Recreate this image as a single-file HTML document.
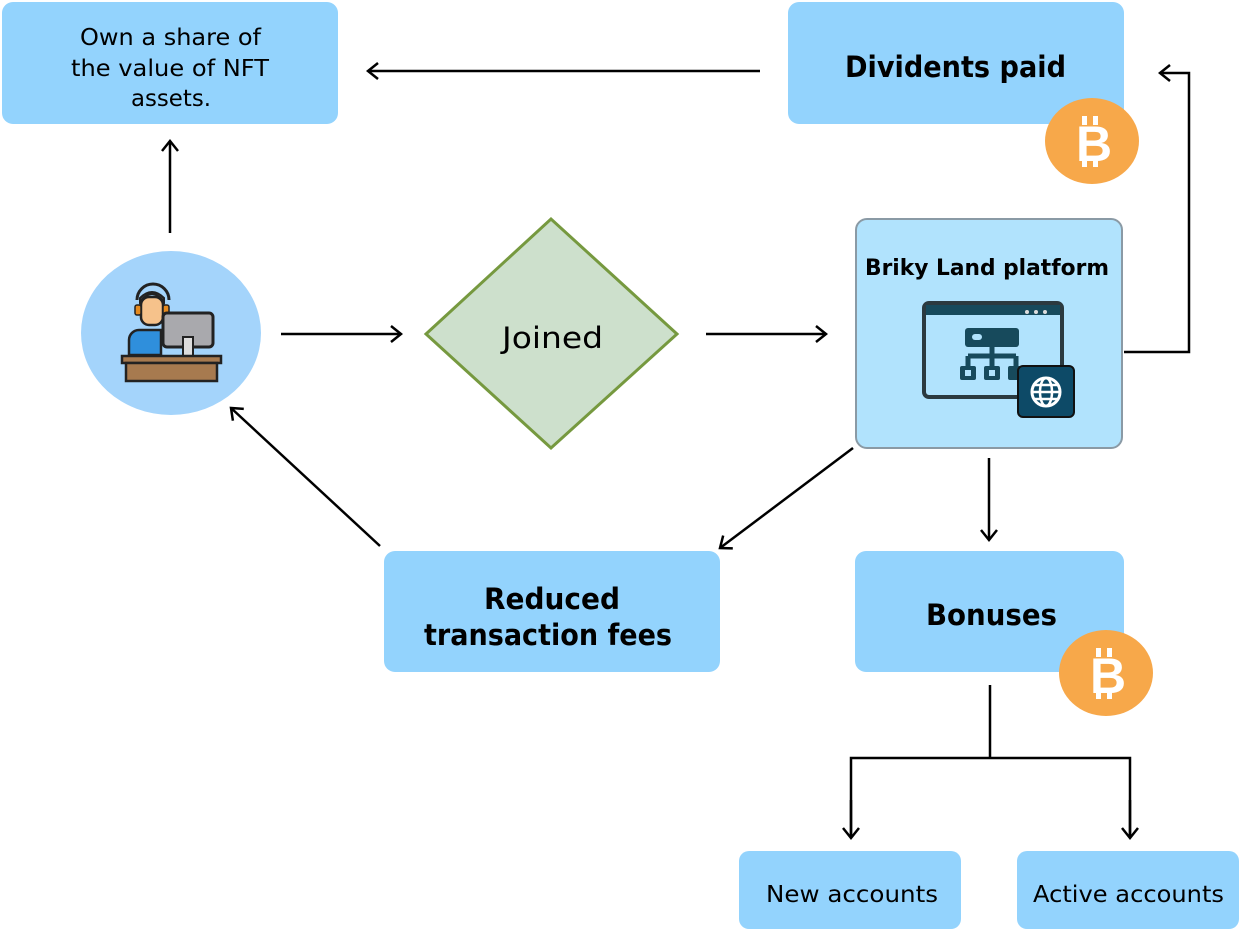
<!DOCTYPE html>
<html><head><meta charset="utf-8"><style>
html,body{margin:0;padding:0;background:#fff;}
svg{display:block;font-family:"DejaVu Sans","Liberation Sans",sans-serif;}
</style></head><body>
<svg width="1239" height="930" viewBox="0 0 1239 930" xmlns="http://www.w3.org/2000/svg">
<defs>
<marker id="a" markerWidth="20" markerHeight="20" refX="14" refY="10" orient="auto" markerUnits="userSpaceOnUse">
<polyline points="4,2 14,10 4,18" fill="none" stroke="#000" stroke-width="2.5"/>
</marker>
</defs>
<rect x="2" y="2" width="336" height="122" rx="11" fill="#93d3fd"/>
<text x="80" y="45" font-size="23" textLength="181" lengthAdjust="spacingAndGlyphs" fill="#000">Own a share of</text>
<text x="71" y="76" font-size="23" textLength="198" lengthAdjust="spacingAndGlyphs" fill="#000">the value of NFT</text>
<text x="131" y="106" font-size="23" textLength="80" lengthAdjust="spacingAndGlyphs" fill="#000">assets.</text>

<rect x="788" y="2" width="336" height="122" rx="11" fill="#93d3fd"/>
<text x="845" y="77" font-size="29" font-weight="bold" textLength="221" lengthAdjust="spacingAndGlyphs" fill="#000">Dividents paid</text>

<rect x="856" y="219" width="266" height="229" rx="11" fill="#b1e3fd" stroke="#8a9aa5" stroke-width="2"/>
<text x="865" y="275" font-size="22" font-weight="bold" textLength="244" lengthAdjust="spacingAndGlyphs" fill="#000">Briky Land platform</text>
<rect x="924" y="303" width="138" height="94" rx="5" fill="#b1e3fd" stroke="#2b3a40" stroke-width="4"/>
<rect x="926" y="305" width="134" height="10" fill="#174a5c"/>
<circle cx="1027" cy="312" r="2" fill="#ddd"/><circle cx="1036" cy="312" r="2" fill="#ddd"/><circle cx="1045" cy="312" r="2" fill="#ddd"/>
<rect x="965" y="328" width="54" height="19" rx="3" fill="#174a5c"/>
<rect x="972" y="334" width="10" height="6" rx="3" fill="#b1e3fd"/>
<path d="M992 347 V356 M968 356 H1016 M968 356 V366 M992 356 V366 M1016 356 V366" stroke="#174a5c" stroke-width="5" fill="none"/>
<rect x="960" y="366" width="16" height="14" rx="2" fill="#174a5c"/><rect x="965" y="370" width="6" height="6" fill="#b1e3fd"/>
<rect x="984" y="366" width="16" height="14" rx="2" fill="#174a5c"/><rect x="989" y="370" width="6" height="6" fill="#b1e3fd"/>
<rect x="1008" y="366" width="16" height="14" rx="2" fill="#174a5c"/>
<rect x="1018" y="366" width="56" height="51" rx="5" fill="#0d4a67" stroke="#111" stroke-width="2"/>
<circle cx="1046" cy="392" r="14" fill="none" stroke="#fff" stroke-width="3"/>
<ellipse cx="1046" cy="392" rx="6" ry="14" fill="none" stroke="#fff" stroke-width="2.5"/>
<path d="M1032 392 H1060 M1034 385 H1058 M1034 399 H1058" stroke="#fff" stroke-width="2.5"/>

<rect x="384" y="551" width="336" height="121" rx="11" fill="#93d3fd"/>
<text x="484" y="609" font-size="29" font-weight="bold" textLength="136" lengthAdjust="spacingAndGlyphs" fill="#000">Reduced</text>
<text x="424" y="645" font-size="29" font-weight="bold" textLength="248" lengthAdjust="spacingAndGlyphs" fill="#000">transaction fees</text>

<rect x="855" y="551" width="269" height="121" rx="11" fill="#93d3fd"/>
<text x="926" y="625" font-size="29" font-weight="bold" textLength="131" lengthAdjust="spacingAndGlyphs" fill="#000">Bonuses</text>

<rect x="739" y="851" width="222" height="78" rx="10" fill="#93d3fd"/>
<text x="766" y="902" font-size="23" textLength="172" lengthAdjust="spacingAndGlyphs" fill="#000">New accounts</text>
<rect x="1017" y="851" width="222" height="78" rx="10" fill="#93d3fd"/>
<text x="1033" y="902" font-size="23" textLength="191" lengthAdjust="spacingAndGlyphs" fill="#000">Active accounts</text>

<g>
<ellipse cx="1092" cy="141" rx="47" ry="43" fill="#f7a84a"/>
<rect x="1082" y="116" width="5" height="9" fill="#fff"/><rect x="1093" y="116" width="5" height="9" fill="#fff"/>
<rect x="1082" y="158" width="5" height="9" fill="#fff"/><rect x="1093" y="158" width="5" height="9" fill="#fff"/>
<text x="1094" y="161" font-size="50" font-weight="bold" text-anchor="middle" fill="#fff" font-family="Liberation Sans">B</text>
</g>
<g>
<ellipse cx="1106" cy="673" rx="47" ry="43" fill="#f7a84a"/>
<rect x="1096" y="648" width="5" height="9" fill="#fff"/><rect x="1107" y="648" width="5" height="9" fill="#fff"/>
<rect x="1096" y="690" width="5" height="9" fill="#fff"/><rect x="1107" y="690" width="5" height="9" fill="#fff"/>
<text x="1108" y="693" font-size="50" font-weight="bold" text-anchor="middle" fill="#fff" font-family="Liberation Sans">B</text>
</g>

<ellipse cx="171" cy="333" rx="90" ry="82" fill="#a4d4fb"/>
<path d="M137 300 a16 16 0 0 1 32 0" fill="none" stroke="#222" stroke-width="3"/>
<path d="M129 355 v-15 a10 10 0 0 1 10 -10 h22 v25 z" fill="#2f8fdc" stroke="#222" stroke-width="2.5"/>
<rect x="141" y="297" width="22" height="28" rx="8" fill="#f6c28b" stroke="#222" stroke-width="2.5"/>
<path d="M140 302 q12 -16 24 0 v-4 q-12 -12 -24 0z" fill="#444" stroke="#222" stroke-width="2"/>
<rect x="135" y="305" width="6" height="10" rx="2" fill="#e58a1f" stroke="#222" stroke-width="1.5"/>
<rect x="163" y="305" width="6" height="10" rx="2" fill="#e58a1f" stroke="#222" stroke-width="1.5"/>
<rect x="163" y="313" width="50" height="34" rx="4" fill="#a9a9ad" stroke="#222" stroke-width="3"/>
<rect x="183" y="337" width="10" height="19" fill="#ddd" stroke="#222" stroke-width="2"/>
<rect x="122" y="356" width="99" height="7" fill="#a77a4f" stroke="#222" stroke-width="2.5"/>
<rect x="126" y="363" width="91" height="18" fill="#a77a4f" stroke="#222" stroke-width="2.5"/>

<polygon points="426,334 551,219 677,334 551,448" fill="#cde0cc" stroke="#76993f" stroke-width="3"/>
<text x="502" y="348" font-size="29" textLength="101" lengthAdjust="spacingAndGlyphs" fill="#000">Joined</text>

<g stroke="#000" stroke-width="2.5" fill="none">
<line x1="760" y1="71" x2="368" y2="71" marker-end="url(#a)"/>
<line x1="170" y1="233" x2="170" y2="141" marker-end="url(#a)"/>
<line x1="281" y1="334" x2="401" y2="334" marker-end="url(#a)"/>
<line x1="706" y1="334" x2="826" y2="334" marker-end="url(#a)"/>
<polyline points="1124,352 1189,352 1189,73 1160,73" marker-end="url(#a)"/>
<line x1="853" y1="448" x2="720" y2="548" marker-end="url(#a)"/>
<line x1="380" y1="546" x2="231" y2="408" marker-end="url(#a)"/>
<line x1="989" y1="458" x2="989" y2="540" marker-end="url(#a)"/>
<line x1="990" y1="685" x2="990" y2="758"/>
<polyline points="851,838 851,758 1130,758 1130,838"/>
<line x1="851" y1="800" x2="851" y2="838" marker-end="url(#a)"/>
<line x1="1130" y1="800" x2="1130" y2="838" marker-end="url(#a)"/>
</g>
</svg>
</body></html>
